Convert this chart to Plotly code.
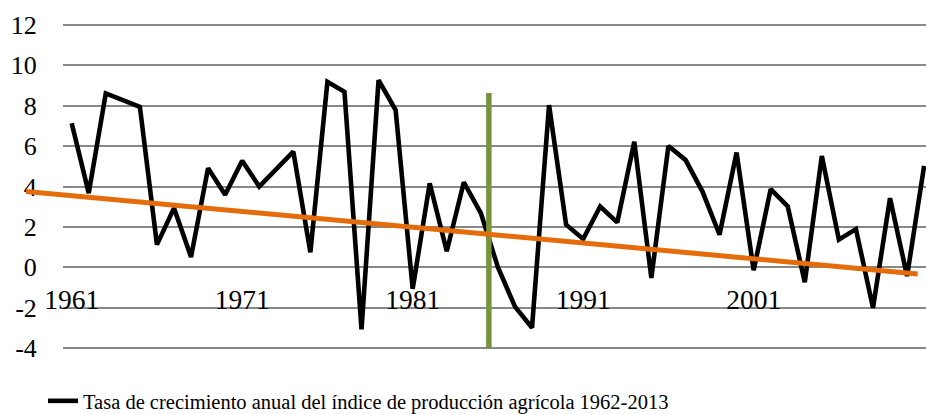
import plotly.graph_objects as go

# Data
years = list(range(1961, 2012))
growth = [7.13, 3.67, 8.61, 8.31, 7.95, 1.12, 2.93, 0.51, 4.91, 3.59,
          5.28, 4.00, 4.90, 5.73, 0.74, 9.19, 8.69, -3.08, 9.27, 7.79,
          -1.07, 4.16, 0.79, 4.21, 2.68, 0.00, -1.95, -3.00, 8.03, 2.11,
          1.40, 3.01, 2.22, 6.22, -0.53, 6.01, 5.32, 3.75, 1.61, 5.68,
          -0.15, 3.87, 3.01, -0.74, 5.51, 1.37, 1.89, -2.01, 3.42, -0.44,
          5.02]
tick_years = [1961, 1971, 1981, 1991, 2001]
y_ticks = [-4, -2, 0, 2, 4, 6, 8, 10, 12]
y_tick_text = ["-4", "-2", "0", "2", "4", "6", "8", "10", "12"]

# Hand-drawn marker line (vertical) and trend line, in data units
break_x = [1985.47, 1985.47]
break_y = [-4, 8.63]
trend_x = [1958.32, 2010.62]
trend_y = [3.75, -0.33]

FONT = "Liberation Serif, Times New Roman, Tinos, serif"
W, H = 926, 414
left_px, plot_left_px = 26, 63
dom0 = (plot_left_px - left_px) / (W - left_px)
y_range = [-4.1, 12.1]
zero_pos = (0 - y_range[0]) / (y_range[1] - y_range[0])

fig = go.Figure()
fig.add_trace(go.Scatter(
    x=years, y=growth, mode="lines",
    line=dict(color="black", width=4.6),
    name="Tasa de crecimiento anual del índice de producción agrícola 1962-2013",
    xaxis="x", yaxis="y", showlegend=True))
fig.add_trace(go.Scatter(
    x=break_x, y=break_y, mode="lines",
    line=dict(color="#77933c", width=5.5), showlegend=False,
    xaxis="x", yaxis="y", hoverinfo="skip"))
fig.add_trace(go.Scatter(
    x=trend_x, y=trend_y, mode="lines",
    line=dict(color="#e46c0a", width=5), showlegend=False,
    xaxis="x2", yaxis="y2", hoverinfo="skip"))

fig.update_layout(
    width=W, height=H,
    margin=dict(l=left_px, r=0, t=22.5, b=63.5, autoexpand=False),
    paper_bgcolor="white", plot_bgcolor="rgba(0,0,0,0)",
    font=dict(family=FONT, color="black", size=26),
    xaxis=dict(domain=[dom0, 1], range=[1960.49, 2011.11],
               anchor="free", position=zero_pos, automargin=False,
               tickvals=tick_years, ticktext=[str(t) for t in tick_years],
               ticks="outside", ticklen=8, tickcolor="rgba(0,0,0,0)",
               showgrid=False, zeroline=False, showline=False,
               tickfont=dict(size=27.5, family=FONT)),
    yaxis=dict(domain=[0, 1], range=y_range, anchor="x",
               automargin=False,
               tickvals=y_ticks, ticktext=y_tick_text,
               ticks="outside", ticklen=20,
               tickcolor="rgba(0,0,0,0)",
               showgrid=True, gridcolor="#888888", gridwidth=1.6,
               zeroline=False, showline=False,
               tickfont=dict(size=26, family=FONT)),
    xaxis2=dict(domain=[0, 1], range=[1958.32, 2011.11], anchor="y2",
                visible=False),
    yaxis2=dict(domain=[0, 1], range=y_range, anchor="x2",
                visible=False),
    legend=dict(orientation="h", xref="container", yref="container",
                x=43 / W, xanchor="left",
                y=1 - 401 / H, yanchor="middle",
                font=dict(size=20.5, family=FONT),
                bgcolor="rgba(0,0,0,0)"),
    showlegend=True,
)

fig.write_html("out.html",
               config={"displayModeBar": False},
               post_script="document.body.style.margin='0';"
                           "document.body.style.overflow='hidden';")
